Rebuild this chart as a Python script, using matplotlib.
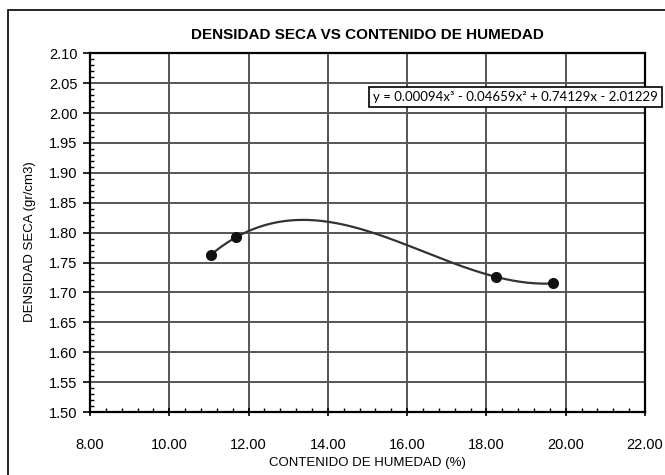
import matplotlib.pyplot as plt
import numpy as np
from matplotlib.ticker import MultipleLocator, FormatStrFormatter
from matplotlib.patches import Rectangle

# moisture content (%) and dry density (g/cm3)
humedad = [11.05, 11.68, 18.24, 19.67]
densidad = [1.763, 1.792, 1.726, 1.715]
ecuacion = "y = 0.00094x³ - 0.04659x² + 0.74129x - 2.01229"

plt.rcParams['font.family'] = ['Liberation Sans', 'DejaVu Sans']

fig = plt.figure(figsize=(6.65, 4.75), dpi=100)
ax = fig.add_axes([0.1353, 0.1326, 0.8347, 0.7554])

# outer frame of the chart object
fig.patches.append(Rectangle((8 / 665, -0.1), 1.2, 1 - 10 / 475 + 0.1,
                             transform=fig.transFigure, fill=False,
                             edgecolor='black', linewidth=1.2))

# cubic trendline through the points
coef = np.polyfit(humedad, densidad, 3)
xs = np.linspace(min(humedad), max(humedad), 200)
ax.plot(xs, np.polyval(coef, xs), color='#333333', linewidth=1.6, zorder=3)
ax.plot(humedad, densidad, 'o', color='#111111', markersize=7, zorder=4)

ax.set_xlim(8, 22)
ax.set_ylim(1.50, 2.10)
ax.xaxis.set_major_locator(MultipleLocator(2))
ax.xaxis.set_minor_locator(MultipleLocator(0.4))
ax.yaxis.set_major_locator(MultipleLocator(0.05))
ax.yaxis.set_minor_locator(MultipleLocator(0.01))
ax.xaxis.set_major_formatter(FormatStrFormatter('%.2f'))
ax.yaxis.set_major_formatter(FormatStrFormatter('%.2f'))
ax.tick_params(axis='x', which='major', direction='inout', length=6, width=1.2, labelsize=10.5, pad=16)
ax.tick_params(axis='x', which='minor', direction='in', length=3, width=1)
ax.tick_params(axis='y', which='major', direction='out', length=5, width=1.2, labelsize=10.5, pad=4)
ax.tick_params(axis='y', which='minor', direction='in', length=3, width=1)

ax.grid(True, which='major', color='#555555', linewidth=1.4)
ax.set_axisbelow(True)
for s in ax.spines.values():
    s.set_linewidth(1.6)
    s.set_color('black')

ax.set_title("DENSIDAD SECA VS CONTENIDO DE HUMEDAD", fontsize=11, fontweight='bold', pad=10)
ax.set_xlabel("CONTENIDO DE HUMEDAD (%)", fontsize=9.5)
ax.set_ylabel("DENSIDAD SECA (gr/cm3)", fontsize=9.5)
ax.xaxis.set_label_coords(0.5, -0.125)
ax.yaxis.set_label_coords(-0.097, 0.474)

ax.text(0.51, 0.877, ecuacion, transform=ax.transAxes, fontsize=9.5,
        family=['Lato', 'DejaVu Sans'], va='center', ha='left',
        bbox=dict(boxstyle='square,pad=0.3', facecolor='white', edgecolor='black', linewidth=1.2),
        zorder=5)

plt.savefig("out.png", dpi=100)
plt.close()
